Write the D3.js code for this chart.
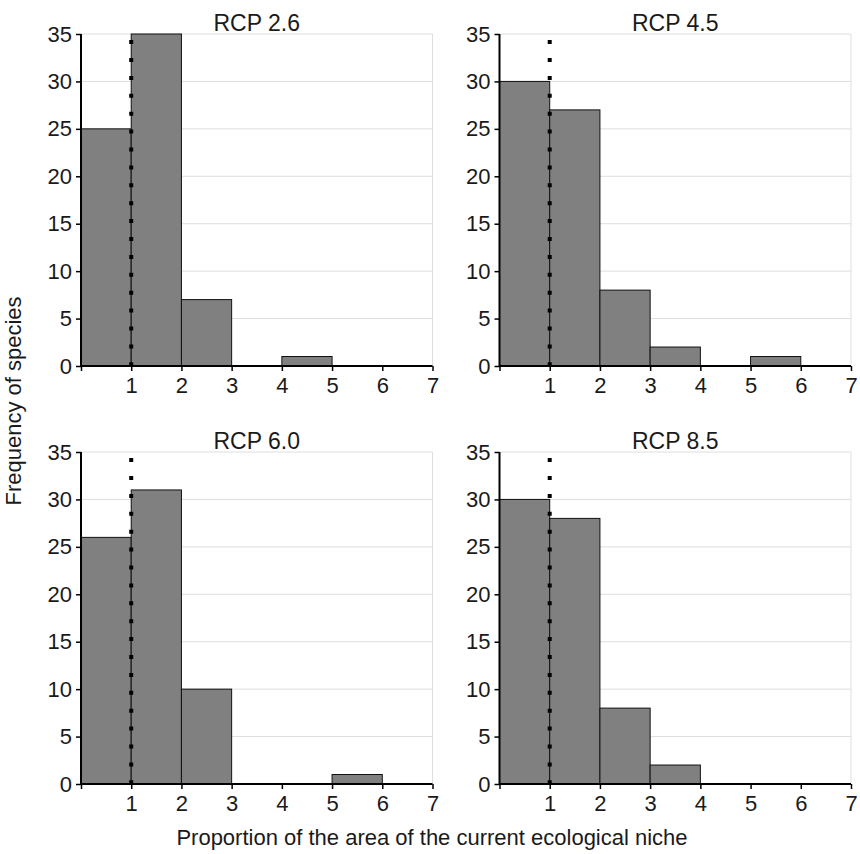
<!DOCTYPE html>
<html>
<head>
<meta charset="utf-8">
<script src="https://cdn.jsdelivr.net/npm/d3@7"></script>
<style>
  body { margin: 0; background: #fff; }
  text { font-family: "Liberation Sans", Arial, sans-serif; fill: #1a1a1a; }
</style>
</head>
<body>
<div id="chart"></div>
<script>
// bins are 0-1, 1-2, ... 6-7
var binEdges = [0, 1, 2, 3, 4, 5, 6, 7];
var scenarios = ["RCP 2.6", "RCP 4.5", "RCP 6.0", "RCP 8.5"];
var rcp26 = [25, 35, 7, 0, 1, 0, 0];
var rcp45 = [30, 27, 8, 2, 0, 1, 0];
var rcp60 = [26, 31, 10, 0, 0, 1, 0];
var rcp85 = [30, 28, 8, 2, 0, 0, 0];
var yTicks = [0, 5, 10, 15, 20, 25, 30, 35];
var xTickLabels = ["", "1", "2", "3", "4", "5", "6", "7"];
var threshold = 1;     // current niche size
var lineTop = 34.5;    // where the dotted line stops

var allCounts = [rcp26, rcp45, rcp60, rcp85];

var width = 860, height = 854;
var svg = d3.select("#chart").append("svg")
  .attr("width", width)
  .attr("height", height);

// panel origins (top-left of plot area)
var panels = [
  {x: 81, y: 34},
  {x: 499.5, y: 34},
  {x: 81, y: 452},
  {x: 499.5, y: 452}
];
var pw = 351.5, ph = 332;

var x = d3.scaleLinear().domain([0, 7]).range([0, pw]);
var y = d3.scaleLinear().domain([0, 35]).range([ph, 0]);

panels.forEach(function(p, i) {
  var counts = allCounts[i];
  var g = svg.append("g").attr("transform", "translate(" + p.x + "," + p.y + ")");

  // gridlines
  g.selectAll(".grid").data(yTicks.slice(1)).enter().append("line")
    .attr("x1", 0).attr("x2", x(7))
    .attr("y1", function(d) { return y(d); })
    .attr("y2", function(d) { return y(d); })
    .attr("stroke", "#dedede").attr("stroke-width", 1);
  g.append("line")
    .attr("x1", x(7)).attr("x2", x(7))
    .attr("y1", y(0)).attr("y2", y(35))
    .attr("stroke", "#dedede").attr("stroke-width", 1);

  // bars
  var bins = counts.map(function(c, k) { return {x0: binEdges[k], x1: binEdges[k + 1], n: c}; })
    .filter(function(b) { return b.n > 0; });
  g.selectAll(".bar").data(bins).enter().append("rect")
    .attr("x", function(d) { return x(d.x0); })
    .attr("width", function(d) { return x(d.x1) - x(d.x0); })
    .attr("y", function(d) { return y(d.n); })
    .attr("height", function(d) { return y(0) - y(d.n); })
    .attr("fill", "#808080")
    .attr("stroke", "#111").attr("stroke-width", 1);

  // dotted line at 1
  g.append("line")
    .attr("x1", x(threshold)).attr("x2", x(threshold))
    .attr("y1", y(0) + 0.3).attr("y2", y(lineTop))
    .attr("stroke", "#000").attr("stroke-width", 4)
    .attr("stroke-dasharray", "4,13.9");

  // axes
  var yAxis = d3.axisLeft(y).tickValues(yTicks).tickSize(5).tickPadding(4);
  var ya = g.append("g").call(yAxis);
  var xAxis = d3.axisBottom(x).tickValues(binEdges).tickSize(5).tickPadding(6)
    .tickFormat(function(d, k) { return xTickLabels[k]; });
  var xa = g.append("g").attr("transform", "translate(0," + ph + ")").call(xAxis);
  [ya, xa].forEach(function(a) {
    a.select(".domain").attr("stroke", "#000").attr("stroke-width", 2);
    a.selectAll(".tick line").attr("stroke", "#000").attr("stroke-width", 1.5);
    a.selectAll("text").style("font-size", "22px").attr("fill", "#1a1a1a")
      .style("font-family", "Liberation Sans, Arial, sans-serif");
  });
  ya.select(".domain").attr("d", "M0," + (ph + 0.5) + "V0");
  xa.select(".domain").attr("d", "M0,0H" + pw);

  // title
  g.append("text")
    .attr("x", pw / 2).attr("y", -3)
    .attr("text-anchor", "middle")
    .style("font-size", "23px")
    .text(scenarios[i]);
});

svg.append("text")
  .attr("transform", "translate(21,401) rotate(-90)")
  .attr("text-anchor", "middle")
  .style("font-size", "22px")
  .text("Frequency of species");

svg.append("text")
  .attr("x", 432).attr("y", 845)
  .attr("text-anchor", "middle")
  .style("font-size", "22px")
  .text("Proportion of the area of the current ecological niche");
</script>
</body>
</html>
